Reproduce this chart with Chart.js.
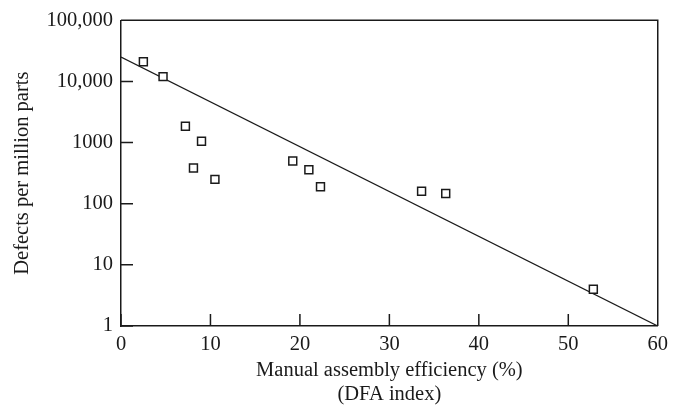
<!DOCTYPE html>
<html>
<head>
<meta charset="utf-8">
<script src="https://cdn.jsdelivr.net/npm/chart.js@4.4.0/dist/chart.umd.min.js"></script>
<style>
  html, body { margin: 0; padding: 0; background: #fff; }
  #wrap { width: 674px; height: 410px; }
</style>
</head>
<body>
<div id="wrap"><canvas id="dfaChart"></canvas></div>
<script>
// Defect rate against manual assembly efficiency (DFA index)
const efficiency = [2.5, 4.7, 7.2, 8.1, 9.0, 10.5, 19.2, 21.0, 22.3, 33.6, 36.3, 52.8];
const defects = [21000, 12000, 1850, 385, 1050, 250, 500, 360, 190, 160, 147, 4];
const trendX = [0, 60];
const trendY = [25000, 1];
const xTicks = [0, 10, 20, 30, 40, 50, 60];
const yTicks = [1, 10, 100, 1000, 10000, 100000];
const yTickLabels = ["1", "10", "100", "1000", "10,000", "100,000"];

const ink = "#1a1a1a";
const serif = { family: "'Liberation Serif', serif", size: 20.5 };

// frame on top/right and tick marks pointing into the plot
const innerTicks = {
  id: "innerTicks",
  afterDatasetsDraw(chart) {
    const { ctx, chartArea: a, scales: { x, y } } = chart;
    ctx.save();
    ctx.strokeStyle = ink;
    ctx.lineWidth = 1.5;
    ctx.beginPath();
    ctx.moveTo(a.left, a.top);
    ctx.lineTo(a.right, a.top);
    ctx.lineTo(a.right, a.bottom);
    y.ticks.forEach(t => {
      const py = y.getPixelForValue(t.value);
      ctx.moveTo(a.left, py);
      ctx.lineTo(a.left + 12, py);
    });
    x.ticks.forEach(t => {
      const px = x.getPixelForValue(t.value);
      ctx.moveTo(px, a.bottom);
      ctx.lineTo(px, a.bottom - 12);
    });
    ctx.stroke();
    ctx.restore();
  }
};

new Chart(document.getElementById("dfaChart"), {
  type: "scatter",
  data: {
    datasets: [
      {
        label: "Products",
        data: efficiency.map((e, i) => ({ x: e, y: defects[i] })),
        pointStyle: "rect",
        pointRadius: 5.6,
        pointHoverRadius: 5.6,
        pointBorderWidth: 1.5,
        pointBorderColor: ink,
        pointBackgroundColor: "#fff",
      },
      {
        type: "line",
        label: "Trend",
        data: trendX.map((e, i) => ({ x: e, y: trendY[i] })),
        borderColor: ink,
        borderWidth: 1.3,
        pointRadius: 0,
        fill: false,
      },
    ],
  },
  options: {
    responsive: true,
    maintainAspectRatio: false,
    animation: false,
    layout: { padding: { top: 16, right: 13, left: 0, bottom: 0 } },
    plugins: {
      legend: { display: false },
      tooltip: { enabled: false },
    },
    scales: {
      x: {
        type: "linear",
        min: 0,
        max: 60,
        afterBuildTicks: s => { s.ticks = xTicks.map(v => ({ value: v })); },
        afterFit: s => { s.height = 84; },
        grid: { display: false, drawTicks: false },
        border: { display: true, color: ink, width: 1.5 },
        ticks: { padding: 6, color: ink, font: serif, maxRotation: 0 },
        title: {
          display: true,
          text: ["Manual assembly efficiency (%)", "(DFA index)"],
          color: ink,
          font: { ...serif, lineHeight: 1.17 },
          padding: { top: 0, bottom: 3 },
        },
      },
      y: {
        type: "logarithmic",
        min: 1,
        max: 100000,
        afterBuildTicks: s => { s.ticks = yTicks.map(v => ({ value: v })); },
        afterFit: s => { s.width = 121; },
        grid: { display: false, drawTicks: false },
        border: { display: true, color: ink, width: 1.5 },
        ticks: {
          padding: 8,
          color: ink,
          font: serif,
          callback: v => yTickLabels[yTicks.indexOf(v)],
        },
        title: {
          display: true,
          text: "Defects per million parts",
          color: ink,
          font: serif,
          padding: { top: 10, bottom: 0 },
        },
      },
    },
  },
  plugins: [innerTicks],
});
</script>
</body>
</html>
